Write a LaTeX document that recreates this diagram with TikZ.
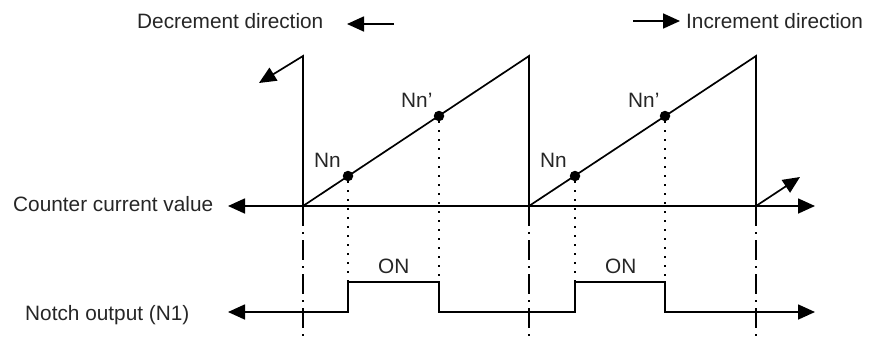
\documentclass[tikz,border=0pt]{standalone}
\usepackage{fontspec}
\setmainfont{Liberation Sans}
\usetikzlibrary{arrows.meta}
\tikzset{
  sig/.style={line width=1.7bp, line join=miter},
  tip/.tip={Triangle[length=17bp,width=15bp]},
  dotl/.style={line width=2bp, dash pattern=on 2bp off 7bp},
  dashdot/.style={line width=1.7bp, dash pattern=on 20bp off 6bp on 2bp off 6bp},
  lbl/.style={inner sep=0pt, anchor=base west, font=\fontsize{20.8bp}{25bp}\selectfont, text=black!85},
  pt/.style={circle, fill=black, inner sep=0pt, minimum size=10.5bp}
}
\begin{document}
\begin{tikzpicture}[x=1bp, y=-1bp]
\useasboundingbox (0,0) rectangle (872,342);
% coordinates
\coordinate (CL) at (228,206);
\coordinate (CR) at (815,206);
\coordinate (B1) at (303,206);
\coordinate (T1) at (303,56);
\coordinate (D1) at (259,83);
\coordinate (T2) at (529,56);
\coordinate (B2) at (529,206);
\coordinate (T3) at (756,56);
\coordinate (B3) at (756,206);
\coordinate (U3) at (800,177);
\coordinate (NL) at (228,312);
\coordinate (NR) at (815,312);
\coordinate (L1) at (348,312);
\coordinate (H1) at (348,282);
\coordinate (H2) at (439,282);
\coordinate (L2) at (439,312);
\coordinate (L3) at (575,312);
\coordinate (H3) at (575,282);
\coordinate (H4) at (665,282);
\coordinate (L4) at (665,312);
\coordinate (E1) at (303,340);
\coordinate (E2) at (529,340);
\coordinate (E3) at (756,340);
% dots
\node[pt] (P1) at (348,176) {};
\node[pt] (P2) at (439,116) {};
\node[pt] (P3) at (575,176) {};
\node[pt] (P4) at (665,116) {};
% labels
\node[lbl] (lc) at (13,211) {Counter current value};
\node[lbl] (ln) at (25,320) {Notch output (N1)};
\node[lbl] (ld) at (137,28) {Decrement direction};
\node[lbl] (li) at (686,28) {Increment direction};
\node[lbl] (n1) at (314,167) {Nn};
\node[lbl] (n2) at (401,107) {Nn’};
\node[lbl] (n3) at (540,167) {Nn};
\node[lbl] (n4) at (628,107) {Nn’};
\node[lbl] (on1) at (378,273) {ON};
\node[lbl] (on2) at (605,273) {ON};
% direction arrows
\coordinate (DA1) at (347,24);
\coordinate (DA2) at (394,24);
\coordinate (IA1) at (633,21);
\coordinate (IA2) at (680,21);
\draw[sig,-tip] (DA2) -- (DA1);
\draw[sig,-tip] (IA1) -- (IA2);
% axes
\draw[sig,tip-tip] (CL) -- (CR);
% sawtooth
\draw[sig,-tip] (B1) -- (T1) -- (D1);
\draw[sig] (B1) -- (T2) -- (B2) -- (T3) -- (B3);
\draw[sig,-tip] (B3) -- (U3);
% notch output
\draw[sig,tip-tip] (NL) -- (L1) -- (H1) -- (H2) -- (L2) -- (L3) -- (H3) -- (H4) -- (L4) -- (NR);
% dotted projections
\draw[dotl] (P1) -- (H1);
\draw[dotl] (P2) -- (H2);
\draw[dotl] (P3) -- (H3);
\draw[dotl] (P4) -- (H4);
% dash-dot lines
\draw[dashdot] (B1) -- (E1);
\draw[dashdot] (B2) -- (E2);
\draw[dashdot] (B3) -- (E3);
\end{tikzpicture}
\end{document}
